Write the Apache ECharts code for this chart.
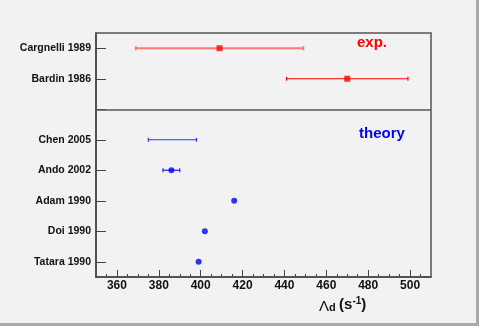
<!DOCTYPE html>
<html>
<head>
<meta charset="utf-8">
<script src="https://cdn.jsdelivr.net/npm/echarts@6/dist/echarts.min.js"></script>
<style>
  html, body { margin: 0; padding: 0; background: #f2f2f2; }
  #chart { width: 479px; height: 326px; }
</style>
</head>
<body>
<div id="chart"></div>
<script>
  // y categories, bottom to top ('' is the gap where the divider sits)
  const labels = ['Tatara 1990', 'Doi 1990', 'Adam 1990', 'Ando 2002', 'Chen 2005', '', 'Bardin 1986', 'Cargnelli 1989']

  // experiments
  const expNames = ['Cargnelli 1989', 'Bardin 1986']
  const expValues = [409, 470]
  const expLow = [369, 441]
  const expHigh = [449, 499]

  // theory
  const theoryNames = ['Chen 2005', 'Ando 2002', 'Adam 1990', 'Doi 1990', 'Tatara 1990']
  const theoryValues = [null, 386, 416, 402, 399]
  const theoryLow = [375, 382, null, null, null]
  const theoryHigh = [398, 390, null, null, null]

  // x axis
  const xMin = 350
  const xMax = 510
  const xTicks = [360, 380, 400, 420, 440, 460, 480, 500]
  const xMinorTicks = [355, 360, 365, 370, 375, 380, 385, 390, 395, 400, 405, 410, 415, 420, 425,
    430, 435, 440, 445, 450, 455, 460, 465, 470, 475, 480, 485, 490, 495, 500, 505]

  // error bar look per row
  const barStyle = {
    'Cargnelli 1989': { color: '#f77', width: 2 },
    'Bardin 1986': { color: '#f00', width: 1.2 },
    'Chen 2005': { color: '#33f', width: 1.2 },
    'Ando 2002': { color: '#22f', width: 1.2 }
  }

  function errData(names, lo, hi) {
    const out = []
    names.forEach((n, i) => {
      if (lo[i] != null) out.push([lo[i], hi[i], n])
    })
    return out
  }

  function pointData(names, vals) {
    const out = []
    names.forEach((n, i) => {
      if (vals[i] != null) out.push([vals[i], n])
    })
    return out
  }

  function renderErr(params, api) {
    const name = labels[api.value(2)]
    const st = barStyle[name] || { color: '#000', width: 1 }
    const a = api.coord([api.value(0), api.value(2)])
    const b = api.coord([api.value(1), api.value(2)])
    const cap = 2
    const style = { stroke: st.color, lineWidth: st.width }
    return {
      type: 'group',
      children: [
        { type: 'line', shape: { x1: a[0], y1: a[1], x2: b[0], y2: b[1] }, style: style },
        { type: 'line', shape: { x1: a[0], y1: a[1] - cap, x2: a[0], y2: a[1] + cap }, style: style },
        { type: 'line', shape: { x1: b[0], y1: b[1] - cap, x2: b[0], y2: b[1] + cap }, style: style }
      ]
    }
  }

  const font = 'Liberation Sans, Arial, Helvetica, sans-serif'

  const option = {
    backgroundColor: '#f2f2f2',
    animation: false,
    grid: {
      left: 96, right: 48, top: 33, bottom: 49,
      show: true, borderColor: '#555', borderWidth: 1.5, backgroundColor: 'transparent'
    },
    xAxis: [
      {
        type: 'value',
        min: xMin, max: xMax,
        axisLine: { show: true, lineStyle: { color: '#444', width: 1.5 } },
        axisTick: { show: true, inside: true, length: 7, customValues: xTicks, lineStyle: { color: '#444' } },
        splitLine: { show: false },
        axisLabel: {
          color: '#111', fontFamily: font, fontWeight: 'bold', fontSize: 12, margin: 3,
          customValues: xTicks
        }
      },
      {
        // small ticks every 5
        type: 'value',
        position: 'bottom',
        min: xMin, max: xMax,
        axisLine: { show: false },
        axisTick: { show: true, inside: true, length: 3, customValues: xMinorTicks, lineStyle: { color: '#444' } },
        splitLine: { show: false },
        axisLabel: { show: false }
      }
    ],
    yAxis: {
      type: 'category',
      data: labels,
      axisLine: { show: true, lineStyle: { color: '#444', width: 1.5 } },
      axisTick: { show: true, inside: true, alignWithLabel: true, length: 10, lineStyle: { color: '#444' } },
      splitLine: { show: false },
      axisLabel: { color: '#111', fontFamily: font, fontWeight: 'bold', fontSize: 10.5, margin: 5 }
    },
    series: [
      {
        type: 'custom',
        renderItem: renderErr,
        encode: { x: [0, 1], y: 2 },
        data: errData(expNames, expLow, expHigh),
        z: 2
      },
      {
        type: 'custom',
        renderItem: renderErr,
        encode: { x: [0, 1], y: 2 },
        data: errData(theoryNames, theoryLow, theoryHigh),
        z: 2
      },
      {
        type: 'scatter',
        symbol: 'rect',
        symbolSize: 6,
        itemStyle: { color: '#f00' },
        data: pointData(expNames, expValues),
        z: 3,
        markLine: {
          silent: true,
          symbol: 'none',
          label: { show: false },
          lineStyle: { color: '#555', width: 1.5, type: 'solid' },
          data: [{ yAxis: 5 }]
        }
      },
      {
        type: 'scatter',
        symbol: 'circle',
        symbolSize: 6,
        itemStyle: { color: '#00f' },
        data: pointData(theoryNames, theoryValues),
        z: 3
      }
    ],
    graphic: [
      // canvas bevel, right and bottom
      { type: 'rect', shape: { x: 476, y: 0, width: 3, height: 326 }, style: { fill: '#aaa' } },
      { type: 'rect', shape: { x: 0, y: 323, width: 479, height: 3 }, style: { fill: '#aaa' } },
      {
        type: 'text', left: 357, top: 35,
        style: { text: 'exp.', fill: '#f00', font: 'bold 15px ' + font }
      },
      {
        type: 'text', left: 359, top: 126,
        style: { text: 'theory', fill: '#00f', font: 'bold 15px ' + font }
      },
      {
        type: 'text', left: 319, top: 296,
        style: {
          text: '{l|Λ}{sub|d} {n|(s}{sup|-1}{n|)}',
          rich: {
            l: { fontFamily: font, fontSize: 15, fill: '#111', verticalAlign: 'bottom' },
            sub: { fontFamily: font, fontWeight: 'bold', fontSize: 11, fill: '#111', padding: [6, 0, 0, 0] },
            n: { fontFamily: font, fontWeight: 'bold', fontSize: 15, fill: '#111' },
            sup: { fontFamily: font, fontWeight: 'bold', fontSize: 10, fill: '#111', padding: [0, 0, 8, 0] }
          }
        }
      }
    ]
  }

  const myChart = echarts.init(document.getElementById('chart'))
  myChart.setOption(option, true)
</script>
</body>
</html>
